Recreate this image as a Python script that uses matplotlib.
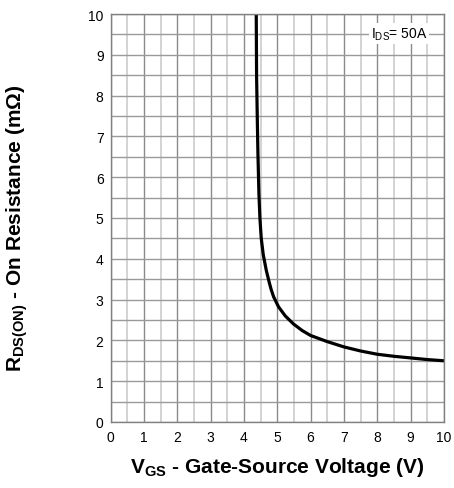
import matplotlib
matplotlib.use("Agg")
import matplotlib.pyplot as plt
from matplotlib.ticker import MultipleLocator

plt.rcParams['font.family'] = ['Liberation Sans', 'DejaVu Sans']
plt.rcParams['mathtext.fontset'] = 'custom'
plt.rcParams['mathtext.rm'] = 'Liberation Sans'
plt.rcParams['mathtext.it'] = 'Liberation Sans'
plt.rcParams['mathtext.bf'] = 'Liberation Sans:bold'

# curve (VGS in V, RDS(on) in mOhm)
vgs = [4.37, 4.38, 4.40, 4.42, 4.45, 4.48, 4.52, 4.58, 4.67, 4.76, 4.82, 4.89,
       5.04, 5.24, 5.49, 5.75, 6.0, 6.5, 7.0, 7.5, 8.0, 8.5, 9.0, 9.5, 10.0]
rds = [10.0, 8.5, 7.5, 6.6, 5.6, 5.0, 4.5, 4.1, 3.72, 3.42, 3.24, 3.07,
       2.82, 2.6, 2.4, 2.24, 2.12, 1.97, 1.84, 1.74, 1.66, 1.61, 1.57, 1.53, 1.5]

x_ticks = list(range(0, 11))
y_ticks = list(range(0, 11))

fig = plt.figure(figsize=(4.54, 4.89), dpi=100)
ax = fig.add_axes([0.2434, 0.135, 0.7346, 0.8343])

ax.set_xlim(0, 10)
ax.set_ylim(0, 10)
ax.set_xticks(x_ticks)
ax.set_yticks(y_ticks)
ax.xaxis.set_minor_locator(MultipleLocator(0.5))
ax.yaxis.set_minor_locator(MultipleLocator(0.5))

ax.grid(True, which='major', axis='x', color='#8a8a8a', lw=1)
ax.grid(True, which='minor', axis='x', color='#cccccc', lw=1.2)
ax.grid(True, which='both', axis='y', color='#9a9a9a', lw=1)
ax.set_axisbelow(True)

for s in ax.spines.values():
    s.set_color('#808080')
    s.set_linewidth(1)

ax.tick_params(which='both', length=0, labelsize=10, colors='black')
ax.tick_params(axis='y', pad=5)
ax.tick_params(axis='x', pad=6)

ax.plot(vgs, rds, color='black', lw=2.3, solid_joinstyle='round', solid_capstyle='butt')

ax.text(9.5, 9.52, r'I$_{\mathrm{DS}}$= 50A', ha='right', va='center', fontsize=10,
        bbox=dict(facecolor='white', edgecolor='none', pad=1.5))

ax.set_xlabel(r'$\mathbf{V_{GS}}$ - Gate-Source Voltage (V)', fontsize=15,
              fontweight='bold', labelpad=8)
ax.set_ylabel(r'$\mathbf{R_{DS(ON)}}$ - On Resistance (m$\mathbf{\Omega}$)', fontsize=15,
              fontweight='bold')
ax.yaxis.set_label_coords(-0.241, 0.478)

fig.savefig('out.png', dpi=100)
